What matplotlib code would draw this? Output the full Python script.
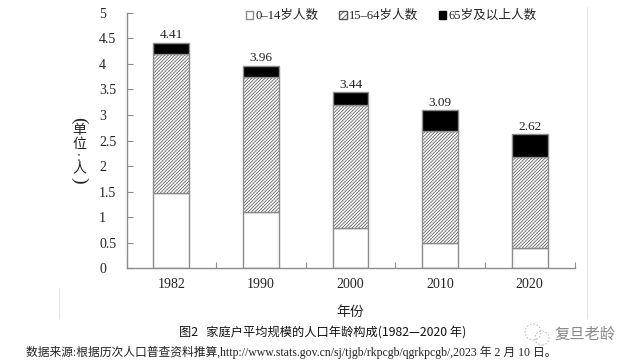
import matplotlib
matplotlib.use('Agg')
import matplotlib.pyplot as plt
from matplotlib.patches import Patch, Ellipse
from matplotlib.transforms import IdentityTransform

plt.rcParams['font.family'] = ['Liberation Serif', 'Noto Sans CJK SC']
plt.rcParams['hatch.linewidth'] = 0.55

years = ['1982', '1990', '2000', '2010', '2020']
young = [1.48, 1.10, 0.79, 0.50, 0.39]
working = [2.71, 2.64, 2.41, 2.19, 1.79]
old = [0.22, 0.22, 0.24, 0.40, 0.44]
totals = [4.41, 3.96, 3.44, 3.09, 2.62]
yticks = [0, 0.5, 1, 1.5, 2, 2.5, 3, 3.5, 4, 4.5, 5]
ylabels = ['0', '0.5', '1', '1.5', '2', '2.5', '3', '3.5', '4', '4.5', '5']
series_names = ['0–14岁人数', '15–64岁人数', '65岁及以上人数']

W, H = 635, 363
GREY = '#8c8c8c'
TEXT = '#222222'
HATCH = '/' * 10

fig = plt.figure(figsize=(W / 100, H / 100), dpi=100)
ax = fig.add_axes([126.5 / W, 1 - 268.3 / H, 448 / W, 255.6 / H])

pos = range(len(years))
bottom2 = [a + b for a, b in zip(young, working)]
ax.bar(pos, young, 0.4, color='white', edgecolor=GREY, linewidth=1)
# hatch takes the edge colour, so the grey outline goes on in a second pass
ax.bar(pos, working, 0.4, bottom=young, color='white', edgecolor='#555555', hatch=HATCH, linewidth=0)
ax.bar(pos, working, 0.4, bottom=young, fill=False, edgecolor=GREY, linewidth=1)
ax.bar(pos, old, 0.4, bottom=bottom2, color='black', edgecolor=GREY, linewidth=1)

for i, t in enumerate(totals):
    ax.annotate('%.2f' % t, (i, t), xytext=(0, 1), textcoords='offset points',
                ha='center', va='bottom', fontsize=9.5, color=TEXT)

ax.set_xlim(-0.5, 4.5)
ax.set_ylim(0, 5)
for s in ['top', 'right']:
    ax.spines[s].set_visible(False)
for s in ['left', 'bottom']:
    ax.spines[s].set_color(GREY)
    ax.spines[s].set_linewidth(1)

ax.set_yticks(yticks)
ax.set_yticklabels(ylabels, fontsize=10, color=TEXT, ha='left')
ax.tick_params(axis='y', direction='in', length=4, color=GREY, pad=19.8)
ax.set_xticks([i - 0.5 for i in range(6)])
ax.set_xticklabels([])
ax.tick_params(axis='x', direction='in', length=4, color=GREY)
for i, y in enumerate(years):
    ax.annotate(y, (i, 0), xytext=(0, -12), textcoords='offset points',
                ha='center', va='center', fontsize=10, color=TEXT)

handles = [Patch(facecolor='white', edgecolor=GREY),
           Patch(facecolor='white', edgecolor='#555555', hatch='/' * 6),
           Patch(facecolor='black', edgecolor='black')]
fig.legend(handles, series_names, ncol=3, loc='center', bbox_to_anchor=(391.5 / W, 1 - 16 / H),
           frameon=False, fontsize=9.1, handlelength=0.6, handleheight=0.6,
           handletextpad=0.2, columnspacing=1.6, labelcolor=TEXT)

# stacked unit label, characters upright and brackets turned
unit_chars = ['(', '单', '位', ':', '人', ')']
unit_rot = [-90, 0, 0, 0, 0, -90]
unit_size = [14, 10, 10, 10, 10, 14]
unit_y = [120, 130, 145, 157, 169, 180]
for c, r, s, y in zip(unit_chars, unit_rot, unit_size, unit_y):
    fig.text(79 / W, 1 - y / H, c, ha='center', va='center', rotation=r, fontsize=s, color=TEXT)

fig.text(350 / W, 1 - 312 / H, '年份', ha='center', va='center', fontsize=10, color=TEXT)
fig.text(323 / W, 1 - 332.5 / H, '图2   家庭户平均规模的人口年龄构成(1982—2020 年)', ha='center', va='center',
         fontsize=8.8, color='#111111', family=['Noto Sans CJK SC', 'Liberation Serif'])
fig.text(26 / W, 1 - 352 / H,
         '数据来源:根据历次人口普查资料推算,http://www.stats.gov.cn/sj/tjgb/rkpcgb/qgrkpcgb/,2023 年 2 月 10 日。',
         ha='left', va='center', fontsize=8.5, color=TEXT)

# watermark: two dashed bubbles and the account name
fig.text(585 / W, 1 - 334 / H, '复旦老龄', ha='center', va='center', fontsize=11, color='#888888',
         family=['Noto Sans CJK SC'])
for cx, cy, r in [(533, 332, 8), (542, 338, 7)]:
    fig.add_artist(Ellipse((cx, H - cy), 2 * r, 2 * r, transform=IdentityTransform(), fill=False,
                           edgecolor='#b0b0b0', linewidth=0.6, linestyle=(0, (2, 2))))

# faint scan edges
fig.add_artist(plt.Line2D([587 / W, 587 / W], [1 - 318 / H, 1 - 7 / H], color='#e4e4e4', lw=0.8))
fig.add_artist(plt.Line2D([58.5 / W, 58.5 / W], [1 - 318 / H, 1 - 288 / H], color='#e4e4e4', lw=0.8))

fig.savefig('out.png', dpi=100)
